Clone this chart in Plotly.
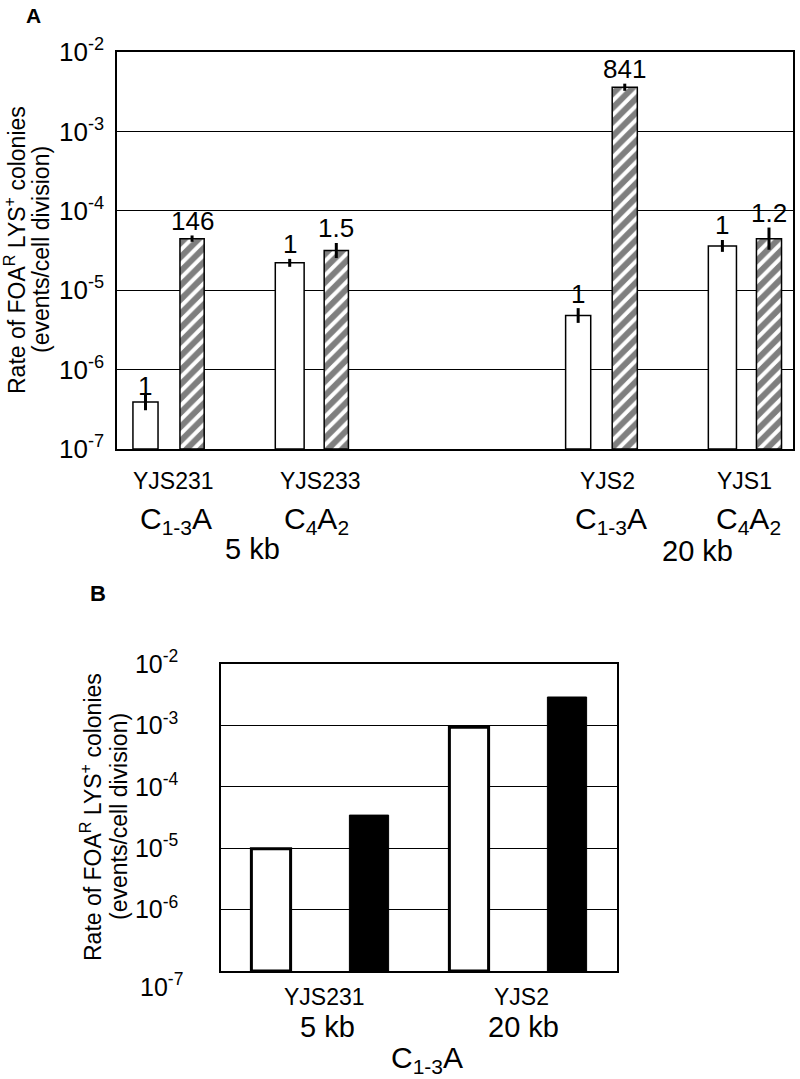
import plotly.graph_objects as go
import numpy as np

# ---------------- data ----------------
# Panel A
strains_a = ["YJS231", "YJS233", "YJS2", "YJS1"]
genotypes_a = ["C<sub>1-3</sub>A", "C<sub>4</sub>A<sub>2</sub>", "C<sub>1-3</sub>A", "C<sub>4</sub>A<sub>2</sub>"]
sizes_a = ["5 kb", "20 kb"]
rate_open_a = [2.9e-7, 2.2e-5, 4.7e-6, 3.6e-5]
rate_hatch_a = [4.45e-5, 3.15e-5, 3.6e-3, 4.45e-5]
err_open_a = [0.145, 0.05, 0.095, 0.075]      # half-length of error bars, decades
err_hatch_a = [0.04, 0.095, 0.045, 0.14]
fold_open_a = ["1", "1", "1", "1"]
fold_hatch_a = ["146", "1.5", "841", "1.2"]

# Panel B
strains_b = ["YJS231", "YJS2"]
sizes_b = ["5 kb", "20 kb"]
genotype_b = "C<sub>1-3</sub>A"
rate_open_b = [0.97e-5, 9.3e-4]
rate_solid_b = [3.45e-5, 2.9e-3]

tick_exps = [-2, -3, -4, -5, -6, -7]
ytitle_lines = ["Rate of FOA<sup>R</sup> LYS<sup>+</sup> colonies", "(events/cell division)"]

# ---------------- layout helpers ----------------
W, H = 800, 1079
FONT = "Liberation Sans, Arial, sans-serif"
group_pos_a = [0, 1, 3, 4]           # horizontal slots of the four strains
pair_sep = 0.323
w_open_a = [0.174, 0.20, 0.174, 0.195]
w_hatch_a = [0.168, 0.168, 0.174, 0.174]


def px(x):
    return x / W


def py(y):
    return 1 - y / H


def err_arrays(vals, dec):
    v = np.array(vals)
    d = np.array(dec)
    return (v * (10 ** d - 1)).tolist(), (v * (1 - 10 ** (-d))).tolist()


fig = go.Figure()

up, dn = err_arrays(rate_open_a, err_open_a)
fig.add_trace(go.Bar(
    x=group_pos_a, y=rate_open_a, base=1e-7,
    width=w_open_a, offset=[-pair_sep / 2 - w / 2 for w in w_open_a],
    marker=dict(color="white", line=dict(color="black", width=1.5)),
    error_y=dict(type="data", array=up, arrayminus=dn, color="black", thickness=3, width=0),
    xaxis="x", yaxis="y", showlegend=False, offsetgroup="a1"))

up, dn = err_arrays(rate_hatch_a, err_hatch_a)
fig.add_trace(go.Bar(
    x=group_pos_a, y=rate_hatch_a, base=1e-7,
    width=w_hatch_a, offset=[pair_sep / 2 - w / 2 for w in w_hatch_a],
    marker=dict(color="white", line=dict(color="black", width=1.5),
                pattern=dict(shape="/", fgcolor="black", bgcolor="white", size=10, solidity=0.6)),
    error_y=dict(type="data", array=up, arrayminus=dn, color="black", thickness=3, width=0),
    xaxis="x", yaxis="y", showlegend=False, offsetgroup="a2"))

# fold-change labels above panel A bars
ann = []
for i, g in enumerate(group_pos_a):
    for val, dec, txt, sgn in ((rate_open_a[i], err_open_a[i], fold_open_a[i], -1),
                               (rate_hatch_a[i], err_hatch_a[i], fold_hatch_a[i], 1)):
        ann.append(dict(x=g + sgn * pair_sep / 2, y=np.log10(val) + dec, xref="x", yref="y",
                        text=txt, showarrow=False, yanchor="bottom", xanchor="center", yshift=-2,
                        font=dict(family=FONT, size=26, color="black")))

# Panel B bars
fig.add_trace(go.Bar(
    x=strains_b, y=rate_open_b, base=1e-7,
    marker=dict(color="white", line=dict(color="black", width=3)),
    xaxis="x2", yaxis="y2", showlegend=False, offsetgroup="o"))
fig.add_trace(go.Bar(
    x=strains_b, y=rate_solid_b, base=1e-7,
    marker=dict(color="black", line=dict(color="black", width=1)),
    xaxis="x2", yaxis="y2", showlegend=False, offsetgroup="s"))

tickvals = [10.0 ** e for e in tick_exps]
ticktext = ["10<sup>%d</sup>" % e for e in tick_exps]

axis_common = dict(showline=True, linecolor="black", linewidth=1.5, mirror=True,
                   showgrid=True, gridcolor="black", gridwidth=1.2, zeroline=False,
                   automargin=False)

fig.update_layout(
    width=W, height=H, margin=dict(l=0, r=0, t=0, b=0, autoexpand=False),
    paper_bgcolor="white", plot_bgcolor="white",
    barmode="group",
    font=dict(family=FONT, color="black"),
    xaxis=dict(domain=[px(117), px(793)], range=[-0.359, 4.328], showticklabels=False,
               showgrid=False, showline=True, linecolor="black", linewidth=1.5, mirror=True,
               zeroline=False, anchor="y", automargin=False),
    yaxis=dict(domain=[py(449), py(52)], type="log", range=[-7, -2], anchor="x",
               tickvals=tickvals, ticktext=ticktext, ticks="",
               tickfont=dict(family=FONT, size=26), ticklabelstandoff=6,
               **axis_common),
    xaxis2=dict(domain=[px(221), px(617)], showticklabels=False, showgrid=False,
                showline=True, linecolor="black", linewidth=1.5, mirror=True,
                zeroline=False, anchor="y2", automargin=False),
    yaxis2=dict(domain=[py(971), py(664)], type="log", range=[-7, -2], anchor="x2",
                tickvals=tickvals[:-1], ticktext=ticktext[:-1], ticks="",
                tickfont=dict(family=FONT, size=25), ticklabelstandoff=36,
                **axis_common),
    bargap=0.01, bargroupgap=0.6,
)

# Category / strain labels
lab = []
for s, x in zip(strains_a, [173, 320, 607, 744]):
    lab.append(dict(text=s, x=px(x), y=py(481), size=23))
for g, x in zip(genotypes_a, [176, 316, 611, 748]):
    lab.append(dict(text=g, x=px(x), y=py(521), size=30))
for s, x, y in zip(sizes_a, [252, 697], [549, 551]):
    lab.append(dict(text=s, x=px(x), y=py(y), size=29))
for s, x in zip(strains_b, [324, 521]):
    lab.append(dict(text=s, x=px(x), y=py(997), size=23))
for s, x in zip(sizes_b, [327, 523]):
    lab.append(dict(text=s, x=px(x), y=py(1027), size=29))
lab.append(dict(text=genotype_b, x=px(427), y=py(1059), size=30))
lab.append(dict(text="10<sup>-7</sup>", x=px(185), y=py(985), size=25, xanchor="right"))
lab.append(dict(text="<b>A</b>", x=px(33), y=py(15), size=21))
lab.append(dict(text="<b>B</b>", x=px(98), y=py(593), size=22))

for d in lab:
    ann.append(dict(text=d["text"], x=d["x"], y=d["y"], xref="paper", yref="paper",
                    showarrow=False, xanchor=d.get("xanchor", "center"), yanchor="middle",
                    font=dict(family=FONT, size=d["size"], color="black")))

# rotated y-axis titles (one annotation per line)
for xs, yc in (([15, 41], 250), ([91, 119], 817)):
    for t, x in zip(ytitle_lines, xs):
        ann.append(dict(text=t, x=px(x), y=py(yc), xref="paper", yref="paper",
                        showarrow=False, textangle=-90, xanchor="center", yanchor="middle",
                        font=dict(family=FONT, size=23, color="black")))

fig.update_layout(annotations=ann)
fig.write_html("out.html", config={"displayModeBar": False},
               post_script="document.body.style.margin='0';")
